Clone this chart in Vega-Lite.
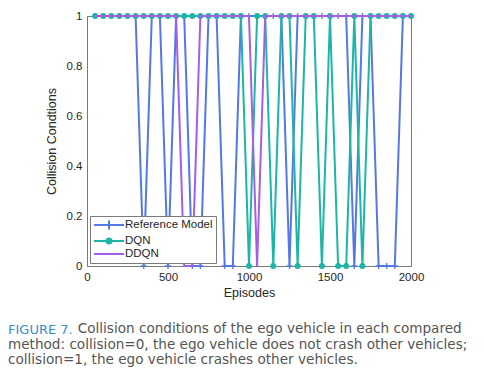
{
  "$schema": "https://vega.github.io/schema/vega-lite/v6.json",
  "width": 324,
  "height": 250,
  "autosize": {"type": "none"},
  "padding": {"left": 87, "top": 16, "right": 73, "bottom": 102},
  "background": "white",
  "config": {
    "font": "Liberation Sans",
    "view": {"stroke": "#7a7a7a", "strokeWidth": 1},
    "axis": {
      "labelFont": "Liberation Sans", "titleFont": "Liberation Sans",
      "labelFontSize": 11.5, "titleFontSize": 12.5, "titleFontWeight": "normal",
      "labelColor": "#262626", "titleColor": "#262626",
      "domainColor": "#7a7a7a", "ticks": false, "grid": false, "labelFlush": false
    }
  },
  "title": {
    "text": "FIGURE 7.",
    "subtitle": [
      "\u2800\u2800\u2800\u2800\u2800\u2800\u2800Collision conditions of the ego vehicle in each compared",
      "method: collision=0, the ego vehicle does not crash other vehicles;",
      "collision=1, the ego vehicle crashes other vehicles."
    ],
    "orient": "bottom", "anchor": "start", "frame": "group", "dx": -79, "offset": 25,
    "color": "#3b8ec6", "font": "DejaVu Sans", "fontSize": 13, "fontWeight": "normal",
    "subtitleFont": "DejaVu Sans", "subtitleFontSize": 13.6, "subtitleColor": "#555555",
    "subtitleLineHeight": 15.5, "subtitlePadding": -15
  },
  "data": {"values": [
    {"ep": 50, "Reference Model": 1, "DQN": 1, "DDQN": 1},
    {"ep": 100, "Reference Model": 1, "DQN": 1, "DDQN": 1},
    {"ep": 150, "Reference Model": 1, "DQN": 1, "DDQN": 1},
    {"ep": 200, "Reference Model": 1, "DQN": 1, "DDQN": 1},
    {"ep": 250, "Reference Model": 1, "DQN": 1, "DDQN": 1},
    {"ep": 300, "Reference Model": 1, "DQN": 1, "DDQN": 1},
    {"ep": 350, "Reference Model": 0, "DQN": 1, "DDQN": 1},
    {"ep": 400, "Reference Model": 1, "DQN": 1, "DDQN": 1},
    {"ep": 450, "Reference Model": 1, "DQN": 1, "DDQN": 1},
    {"ep": 500, "Reference Model": 0, "DQN": 1, "DDQN": 1},
    {"ep": 550, "Reference Model": 1, "DQN": 1, "DDQN": 1},
    {"ep": 600, "Reference Model": 1, "DQN": 1, "DDQN": 0},
    {"ep": 650, "Reference Model": 0, "DQN": 1, "DDQN": 0},
    {"ep": 700, "Reference Model": 0, "DQN": 1, "DDQN": 1},
    {"ep": 750, "Reference Model": 1, "DQN": 1, "DDQN": 1},
    {"ep": 800, "Reference Model": 1, "DQN": 1, "DDQN": 1},
    {"ep": 850, "Reference Model": 0, "DQN": 1, "DDQN": 1},
    {"ep": 900, "Reference Model": 0, "DQN": 1, "DDQN": 1},
    {"ep": 950, "Reference Model": 1, "DQN": 1, "DDQN": 1},
    {"ep": 1000, "Reference Model": 1, "DQN": 0, "DDQN": 1},
    {"ep": 1050, "Reference Model": 1, "DQN": 1, "DDQN": 0},
    {"ep": 1100, "Reference Model": 1, "DQN": 1, "DDQN": 1},
    {"ep": 1150, "Reference Model": 1, "DQN": 0, "DDQN": 1},
    {"ep": 1200, "Reference Model": 1, "DQN": 1, "DDQN": 1},
    {"ep": 1250, "Reference Model": 0, "DQN": 1, "DDQN": 1},
    {"ep": 1300, "Reference Model": 1, "DQN": 0, "DDQN": 1},
    {"ep": 1350, "Reference Model": 1, "DQN": 1, "DDQN": 1},
    {"ep": 1400, "Reference Model": 1, "DQN": 1, "DDQN": 1},
    {"ep": 1450, "Reference Model": 1, "DQN": 0, "DDQN": 1},
    {"ep": 1500, "Reference Model": 1, "DQN": 1, "DDQN": 1},
    {"ep": 1550, "Reference Model": 1, "DQN": 0, "DDQN": 1},
    {"ep": 1600, "Reference Model": 1, "DQN": 0, "DDQN": 1},
    {"ep": 1650, "Reference Model": 0, "DQN": 1, "DDQN": 1},
    {"ep": 1700, "Reference Model": 1, "DQN": 0, "DDQN": 1},
    {"ep": 1750, "Reference Model": 1, "DQN": 1, "DDQN": 1},
    {"ep": 1800, "Reference Model": 0, "DQN": 1, "DDQN": 1},
    {"ep": 1850, "Reference Model": 0, "DQN": 1, "DDQN": 1},
    {"ep": 1900, "Reference Model": 0, "DQN": 1, "DDQN": 1},
    {"ep": 1950, "Reference Model": 1, "DQN": 1, "DDQN": 1},
    {"ep": 2000, "Reference Model": 1, "DQN": 1, "DDQN": 1}
  ]},
  "transform": [{"fold": ["Reference Model", "DQN", "DDQN"], "as": ["series", "v"]}],
  "encoding": {
    "x": {"field": "ep", "type": "quantitative", "scale": {"domain": [0, 2000], "nice": false},
      "axis": {"title": "Episodes", "values": [0, 500, 1000, 1500, 2000], "format": "d", "labelPadding": 5, "titlePadding": 4}},
    "y": {"field": "v", "type": "quantitative", "scale": {"domain": [0, 1], "nice": false},
      "axis": {"title": "Collision Condtions", "values": [0, 0.2, 0.4, 0.6, 0.8, 1], "format": "~g", "labelPadding": 5, "titlePadding": 8}},
    "color": {"field": "series", "type": "nominal",
      "scale": {"domain": ["Reference Model", "DQN", "DDQN"], "range": ["#5478e6", "#1db6a6", "#a35fe6"]},
      "legend": {
        "title": null, "orient": "bottom-left", "offset": 3,
        "fillColor": "white", "strokeColor": "#7a7a7a", "padding": 3,
        "labelFont": "Liberation Sans", "labelFontSize": 11.5, "labelColor": "#262626",
        "labelOffset": 20, "rowPadding": 0, "symbolStrokeWidth": 2, "symbolSize": 100, "symbolOpacity": 1,
        "encode": {"symbols": {"update": {"shape": {"signal": "datum.value === 'Reference Model' ? 'M-1,0H5M2,-0.9V0.9M1.1,0H2.9' : datum.value === 'DQN' ? 'M-1,0H5M2.5,0A0.5,0.5 0 1,1 1.5,0A0.5,0.5 0 1,1 2.5,0' : 'M-1,0H5'"}}}}
      }}
  },
  "layer": [
    {"transform": [{"filter": "datum.series === 'Reference Model'"}], "mark": {"type": "line", "strokeWidth": 2}},
    {"transform": [{"filter": "datum.series === 'Reference Model'"}], "mark": {"type": "point", "shape": "M-1,0H1M0,-1V1", "size": 36, "strokeWidth": 1.3, "filled": false, "opacity": 1}},
    {"transform": [{"filter": "datum.series === 'DQN'"}], "mark": {"type": "line", "strokeWidth": 2}},
    {"transform": [{"filter": "datum.series === 'DQN'"}], "mark": {"type": "point", "shape": "circle", "size": 36, "filled": true, "opacity": 1}},
    {"transform": [{"filter": "datum.series === 'DDQN'"}], "mark": {"type": "line", "strokeWidth": 2}}
  ]
}
